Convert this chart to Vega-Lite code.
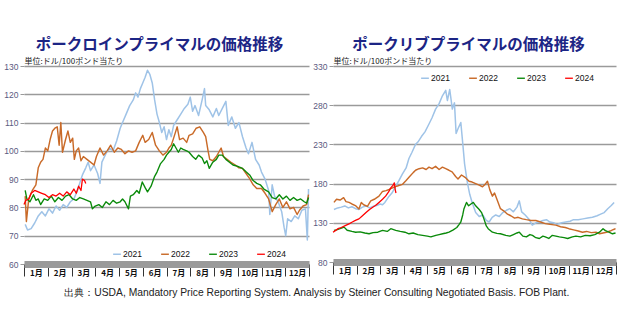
{
"$schema":"https://vega.github.io/schema/vega-lite/v6.json",
"autosize":{"type":"pad"},
"padding":{"left":3,"top":37,"right":5,"bottom":5},
"background":"white",
"bounds":"flush",
"spacing":24,
"title":{"text":"出典：USDA, Mandatory Price Reporting System. Analysis by Steiner Consulting Negotiated Basis. FOB Plant.","orient":"bottom","anchor":"middle","font":"Liberation Sans","fontSize":10.3,"fontWeight":"normal","color":"#222222","offset":11,"dx":1},
"datasets":{
"loin":[
{"yr":"2021","m":0.05,"v":74},{"yr":"2021","m":0.15,"v":72},{"yr":"2021","m":0.3,"v":72.5},{"yr":"2021","m":0.45,"v":74.5},{"yr":"2021","m":0.6,"v":77},{"yr":"2021","m":0.75,"v":78.5},{"yr":"2021","m":0.9,"v":77},{"yr":"2021","m":1.05,"v":79.5},{"yr":"2021","m":1.2,"v":78},{"yr":"2021","m":1.35,"v":80.5},{"yr":"2021","m":1.5,"v":79},{"yr":"2021","m":1.65,"v":81},{"yr":"2021","m":1.8,"v":80},{"yr":"2021","m":1.95,"v":82},{"yr":"2021","m":2.1,"v":83},{"yr":"2021","m":2.25,"v":86},{"yr":"2021","m":2.4,"v":90},{"yr":"2021","m":2.46,"v":91.5},{"yr":"2021","m":2.6,"v":94},{"yr":"2021","m":2.7,"v":96},{"yr":"2021","m":2.8,"v":93},{"yr":"2021","m":2.95,"v":95},{"yr":"2021","m":3.1,"v":92},{"yr":"2021","m":3.2,"v":88.5},{"yr":"2021","m":3.28,"v":96},{"yr":"2021","m":3.45,"v":99},{"yr":"2021","m":3.6,"v":101},{"yr":"2021","m":3.75,"v":100},{"yr":"2021","m":3.9,"v":103.5},{"yr":"2021","m":4.05,"v":108},{"yr":"2021","m":4.15,"v":110},{"yr":"2021","m":4.3,"v":113},{"yr":"2021","m":4.45,"v":116},{"yr":"2021","m":4.6,"v":118},{"yr":"2021","m":4.7,"v":120.5},{"yr":"2021","m":4.8,"v":119},{"yr":"2021","m":4.9,"v":122},{"yr":"2021","m":5.0,"v":124},{"yr":"2021","m":5.1,"v":126},{"yr":"2021","m":5.2,"v":128.5},{"yr":"2021","m":5.3,"v":127},{"yr":"2021","m":5.4,"v":124},{"yr":"2021","m":5.5,"v":118},{"yr":"2021","m":5.6,"v":113},{"yr":"2021","m":5.7,"v":110},{"yr":"2021","m":5.8,"v":106.5},{"yr":"2021","m":5.9,"v":108.5},{"yr":"2021","m":6.0,"v":104},{"yr":"2021","m":6.1,"v":107.5},{"yr":"2021","m":6.2,"v":105},{"yr":"2021","m":6.3,"v":109},{"yr":"2021","m":6.45,"v":111},{"yr":"2021","m":6.6,"v":113},{"yr":"2021","m":6.75,"v":115},{"yr":"2021","m":6.9,"v":116.5},{"yr":"2021","m":7.0,"v":119},{"yr":"2021","m":7.1,"v":114},{"yr":"2021","m":7.2,"v":116},{"yr":"2021","m":7.35,"v":112.5},{"yr":"2021","m":7.5,"v":118},{"yr":"2021","m":7.6,"v":122},{"yr":"2021","m":7.65,"v":116},{"yr":"2021","m":7.8,"v":114.5},{"yr":"2021","m":7.95,"v":112},{"yr":"2021","m":8.1,"v":115},{"yr":"2021","m":8.2,"v":112.5},{"yr":"2021","m":8.35,"v":115},{"yr":"2021","m":8.5,"v":117.5},{"yr":"2021","m":8.6,"v":109},{"yr":"2021","m":8.75,"v":112},{"yr":"2021","m":8.9,"v":108},{"yr":"2021","m":9.05,"v":110},{"yr":"2021","m":9.2,"v":105},{"yr":"2021","m":9.35,"v":101},{"yr":"2021","m":9.45,"v":99},{"yr":"2021","m":9.6,"v":103},{"yr":"2021","m":9.75,"v":97},{"yr":"2021","m":9.9,"v":95},{"yr":"2021","m":10.0,"v":92.5},{"yr":"2021","m":10.15,"v":90},{"yr":"2021","m":10.3,"v":86},{"yr":"2021","m":10.35,"v":77.5},{"yr":"2021","m":10.45,"v":88},{"yr":"2021","m":10.55,"v":84},{"yr":"2021","m":10.7,"v":82},{"yr":"2021","m":10.85,"v":78.5},{"yr":"2021","m":10.95,"v":73},{"yr":"2021","m":11.02,"v":70},{"yr":"2021","m":11.1,"v":76},{"yr":"2021","m":11.25,"v":75},{"yr":"2021","m":11.4,"v":77},{"yr":"2021","m":11.55,"v":76},{"yr":"2021","m":11.7,"v":79},{"yr":"2021","m":11.85,"v":79.5},{"yr":"2021","m":11.93,"v":68.5},{"yr":"2021","m":11.98,"v":86.5},
{"yr":"2022","m":0.05,"v":84},{"yr":"2022","m":0.1,"v":75},{"yr":"2022","m":0.2,"v":83},{"yr":"2022","m":0.35,"v":86},{"yr":"2022","m":0.5,"v":88},{"yr":"2022","m":0.6,"v":94},{"yr":"2022","m":0.7,"v":96},{"yr":"2022","m":0.8,"v":97},{"yr":"2022","m":0.9,"v":101},{"yr":"2022","m":1.0,"v":100},{"yr":"2022","m":1.1,"v":104},{"yr":"2022","m":1.2,"v":107},{"yr":"2022","m":1.3,"v":108},{"yr":"2022","m":1.4,"v":108.5},{"yr":"2022","m":1.48,"v":102},{"yr":"2022","m":1.55,"v":110},{"yr":"2022","m":1.62,"v":99.5},{"yr":"2022","m":1.75,"v":104},{"yr":"2022","m":1.85,"v":107},{"yr":"2022","m":1.95,"v":103},{"yr":"2022","m":2.05,"v":104.5},{"yr":"2022","m":2.12,"v":97},{"yr":"2022","m":2.2,"v":100},{"yr":"2022","m":2.3,"v":101},{"yr":"2022","m":2.4,"v":96.5},{"yr":"2022","m":2.5,"v":98},{"yr":"2022","m":2.65,"v":97},{"yr":"2022","m":2.8,"v":96},{"yr":"2022","m":2.95,"v":95},{"yr":"2022","m":3.05,"v":98},{"yr":"2022","m":3.2,"v":101},{"yr":"2022","m":3.35,"v":98.5},{"yr":"2022","m":3.5,"v":100},{"yr":"2022","m":3.65,"v":102},{"yr":"2022","m":3.8,"v":99.5},{"yr":"2022","m":3.95,"v":101},{"yr":"2022","m":4.1,"v":100.5},{"yr":"2022","m":4.25,"v":99},{"yr":"2022","m":4.4,"v":100},{"yr":"2022","m":4.55,"v":99.5},{"yr":"2022","m":4.7,"v":100},{"yr":"2022","m":4.85,"v":103},{"yr":"2022","m":5.0,"v":105.5},{"yr":"2022","m":5.1,"v":103},{"yr":"2022","m":5.25,"v":104},{"yr":"2022","m":5.4,"v":106.5},{"yr":"2022","m":5.54,"v":102},{"yr":"2022","m":5.7,"v":100},{"yr":"2022","m":5.85,"v":98.5},{"yr":"2022","m":6.0,"v":99.5},{"yr":"2022","m":6.1,"v":101},{"yr":"2022","m":6.2,"v":102},{"yr":"2022","m":6.3,"v":104.5},{"yr":"2022","m":6.45,"v":108.5},{"yr":"2022","m":6.55,"v":104},{"yr":"2022","m":6.7,"v":104.5},{"yr":"2022","m":6.85,"v":103},{"yr":"2022","m":6.95,"v":105.5},{"yr":"2022","m":7.1,"v":106},{"yr":"2022","m":7.25,"v":108},{"yr":"2022","m":7.4,"v":108.5},{"yr":"2022","m":7.55,"v":106.5},{"yr":"2022","m":7.65,"v":105},{"yr":"2022","m":7.75,"v":100},{"yr":"2022","m":7.82,"v":97},{"yr":"2022","m":7.95,"v":96.5},{"yr":"2022","m":8.1,"v":98},{"yr":"2022","m":8.2,"v":99.5},{"yr":"2022","m":8.3,"v":101},{"yr":"2022","m":8.4,"v":98},{"yr":"2022","m":8.55,"v":97},{"yr":"2022","m":8.7,"v":96},{"yr":"2022","m":8.9,"v":95},{"yr":"2022","m":9.05,"v":94},{"yr":"2022","m":9.2,"v":93.8},{"yr":"2022","m":9.35,"v":92},{"yr":"2022","m":9.5,"v":90.2},{"yr":"2022","m":9.65,"v":88},{"yr":"2022","m":9.8,"v":86.7},{"yr":"2022","m":10.0,"v":86.7},{"yr":"2022","m":10.15,"v":85},{"yr":"2022","m":10.3,"v":83},{"yr":"2022","m":10.45,"v":78.5},{"yr":"2022","m":10.6,"v":81},{"yr":"2022","m":10.75,"v":83},{"yr":"2022","m":10.9,"v":80},{"yr":"2022","m":11.05,"v":82},{"yr":"2022","m":11.2,"v":79.5},{"yr":"2022","m":11.35,"v":80},{"yr":"2022","m":11.5,"v":77.5},{"yr":"2022","m":11.6,"v":79},{"yr":"2022","m":11.75,"v":80.5},{"yr":"2022","m":11.9,"v":81},{"yr":"2022","m":11.98,"v":84.5},
{"yr":"2023","m":0.05,"v":86},{"yr":"2023","m":0.12,"v":83},{"yr":"2023","m":0.25,"v":82},{"yr":"2023","m":0.4,"v":84.5},{"yr":"2023","m":0.5,"v":82.5},{"yr":"2023","m":0.6,"v":83},{"yr":"2023","m":0.7,"v":81},{"yr":"2023","m":0.85,"v":83},{"yr":"2023","m":1.0,"v":82.5},{"yr":"2023","m":1.15,"v":84},{"yr":"2023","m":1.3,"v":82},{"yr":"2023","m":1.45,"v":83.5},{"yr":"2023","m":1.6,"v":82.5},{"yr":"2023","m":1.75,"v":84},{"yr":"2023","m":1.9,"v":84.5},{"yr":"2023","m":2.05,"v":83},{"yr":"2023","m":2.2,"v":82.5},{"yr":"2023","m":2.35,"v":83.5},{"yr":"2023","m":2.5,"v":83},{"yr":"2023","m":2.65,"v":82.5},{"yr":"2023","m":2.8,"v":82},{"yr":"2023","m":2.88,"v":79.5},{"yr":"2023","m":3.0,"v":80.5},{"yr":"2023","m":3.15,"v":81},{"yr":"2023","m":3.3,"v":80},{"yr":"2023","m":3.45,"v":82},{"yr":"2023","m":3.6,"v":81},{"yr":"2023","m":3.75,"v":82.5},{"yr":"2023","m":3.9,"v":81.5},{"yr":"2023","m":4.05,"v":82},{"yr":"2023","m":4.15,"v":83},{"yr":"2023","m":4.25,"v":82},{"yr":"2023","m":4.4,"v":79.5},{"yr":"2023","m":4.48,"v":84},{"yr":"2023","m":4.6,"v":84.5},{"yr":"2023","m":4.75,"v":86},{"yr":"2023","m":4.85,"v":85},{"yr":"2023","m":4.98,"v":89},{"yr":"2023","m":5.1,"v":87},{"yr":"2023","m":5.2,"v":85.5},{"yr":"2023","m":5.35,"v":87.5},{"yr":"2023","m":5.5,"v":91},{"yr":"2023","m":5.6,"v":92.5},{"yr":"2023","m":5.75,"v":95.5},{"yr":"2023","m":5.9,"v":97},{"yr":"2023","m":6.0,"v":98.5},{"yr":"2023","m":6.1,"v":99.5},{"yr":"2023","m":6.2,"v":100.5},{"yr":"2023","m":6.3,"v":102.5},{"yr":"2023","m":6.4,"v":101},{"yr":"2023","m":6.5,"v":99.5},{"yr":"2023","m":6.6,"v":101},{"yr":"2023","m":6.7,"v":100.5},{"yr":"2023","m":6.85,"v":100},{"yr":"2023","m":6.95,"v":99.5},{"yr":"2023","m":7.1,"v":98},{"yr":"2023","m":7.23,"v":97},{"yr":"2023","m":7.35,"v":98.5},{"yr":"2023","m":7.5,"v":97.5},{"yr":"2023","m":7.6,"v":95.5},{"yr":"2023","m":7.7,"v":96.5},{"yr":"2023","m":7.8,"v":93.8},{"yr":"2023","m":7.95,"v":96},{"yr":"2023","m":8.1,"v":97},{"yr":"2023","m":8.2,"v":98.5},{"yr":"2023","m":8.35,"v":98.5},{"yr":"2023","m":8.5,"v":97},{"yr":"2023","m":8.65,"v":96},{"yr":"2023","m":8.8,"v":95},{"yr":"2023","m":9.0,"v":94.5},{"yr":"2023","m":9.2,"v":93.8},{"yr":"2023","m":9.35,"v":92.6},{"yr":"2023","m":9.5,"v":91.5},{"yr":"2023","m":9.65,"v":89.5},{"yr":"2023","m":9.8,"v":88.5},{"yr":"2023","m":9.95,"v":88},{"yr":"2023","m":10.1,"v":86.5},{"yr":"2023","m":10.3,"v":85.5},{"yr":"2023","m":10.45,"v":83.5},{"yr":"2023","m":10.6,"v":83},{"yr":"2023","m":10.75,"v":84.5},{"yr":"2023","m":10.9,"v":83},{"yr":"2023","m":11.05,"v":84},{"yr":"2023","m":11.2,"v":82.5},{"yr":"2023","m":11.35,"v":83.5},{"yr":"2023","m":11.5,"v":82.5},{"yr":"2023","m":11.65,"v":83},{"yr":"2023","m":11.8,"v":82},{"yr":"2023","m":11.9,"v":81.5},{"yr":"2023","m":11.98,"v":83.5},
{"yr":"2024","m":0.0,"v":81},{"yr":"2024","m":0.08,"v":82.5},{"yr":"2024","m":0.2,"v":83},{"yr":"2024","m":0.3,"v":85},{"yr":"2024","m":0.45,"v":86},{"yr":"2024","m":0.6,"v":85.5},{"yr":"2024","m":0.75,"v":85},{"yr":"2024","m":0.9,"v":84.5},{"yr":"2024","m":1.05,"v":83.5},{"yr":"2024","m":1.2,"v":84.5},{"yr":"2024","m":1.35,"v":84},{"yr":"2024","m":1.5,"v":85},{"yr":"2024","m":1.65,"v":84},{"yr":"2024","m":1.8,"v":85.5},{"yr":"2024","m":1.95,"v":84.5},{"yr":"2024","m":2.1,"v":86.5},{"yr":"2024","m":2.2,"v":85},{"yr":"2024","m":2.3,"v":87.5},{"yr":"2024","m":2.4,"v":86},{"yr":"2024","m":2.46,"v":90},{"yr":"2024","m":2.55,"v":89.5},{"yr":"2024","m":2.6,"v":88.5}
],
"rib":[
{"yr":"2021","m":0.04,"v":147},{"yr":"2021","m":0.2,"v":149},{"yr":"2021","m":0.35,"v":150},{"yr":"2021","m":0.5,"v":151.5},{"yr":"2021","m":0.65,"v":149},{"yr":"2021","m":0.8,"v":150.5},{"yr":"2021","m":0.96,"v":148},{"yr":"2021","m":1.1,"v":147},{"yr":"2021","m":1.25,"v":150},{"yr":"2021","m":1.4,"v":151.5},{"yr":"2021","m":1.55,"v":149},{"yr":"2021","m":1.7,"v":151},{"yr":"2021","m":1.85,"v":152},{"yr":"2021","m":2.0,"v":154},{"yr":"2021","m":2.1,"v":153},{"yr":"2021","m":2.2,"v":156},{"yr":"2021","m":2.38,"v":164},{"yr":"2021","m":2.5,"v":168},{"yr":"2021","m":2.65,"v":176},{"yr":"2021","m":2.8,"v":184},{"yr":"2021","m":2.94,"v":192},{"yr":"2021","m":3.1,"v":200},{"yr":"2021","m":3.22,"v":212},{"yr":"2021","m":3.35,"v":220},{"yr":"2021","m":3.5,"v":230},{"yr":"2021","m":3.6,"v":233},{"yr":"2021","m":3.75,"v":240},{"yr":"2021","m":3.9,"v":246},{"yr":"2021","m":4.07,"v":256},{"yr":"2021","m":4.2,"v":264},{"yr":"2021","m":4.35,"v":275},{"yr":"2021","m":4.5,"v":282},{"yr":"2021","m":4.64,"v":292},{"yr":"2021","m":4.78,"v":299},{"yr":"2021","m":4.85,"v":286},{"yr":"2021","m":4.95,"v":300},{"yr":"2021","m":5.06,"v":275},{"yr":"2021","m":5.15,"v":283},{"yr":"2021","m":5.22,"v":244},{"yr":"2021","m":5.3,"v":250},{"yr":"2021","m":5.42,"v":258},{"yr":"2021","m":5.5,"v":232},{"yr":"2021","m":5.58,"v":205},{"yr":"2021","m":5.7,"v":181},{"yr":"2021","m":5.8,"v":166},{"yr":"2021","m":5.9,"v":156},{"yr":"2021","m":6.05,"v":143},{"yr":"2021","m":6.2,"v":138},{"yr":"2021","m":6.35,"v":140},{"yr":"2021","m":6.5,"v":133},{"yr":"2021","m":6.62,"v":131},{"yr":"2021","m":6.75,"v":137},{"yr":"2021","m":6.9,"v":140},{"yr":"2021","m":7.05,"v":138},{"yr":"2021","m":7.2,"v":143},{"yr":"2021","m":7.35,"v":146},{"yr":"2021","m":7.5,"v":148},{"yr":"2021","m":7.65,"v":144},{"yr":"2021","m":7.8,"v":150},{"yr":"2021","m":7.9,"v":158},{"yr":"2021","m":8.0,"v":144},{"yr":"2021","m":8.15,"v":140},{"yr":"2021","m":8.3,"v":135},{"yr":"2021","m":8.45,"v":127},{"yr":"2021","m":8.6,"v":130},{"yr":"2021","m":8.74,"v":131},{"yr":"2021","m":8.9,"v":133},{"yr":"2021","m":9.05,"v":134},{"yr":"2021","m":9.2,"v":131},{"yr":"2021","m":9.35,"v":130},{"yr":"2021","m":9.5,"v":128},{"yr":"2021","m":9.7,"v":130},{"yr":"2021","m":9.87,"v":131},{"yr":"2021","m":10.05,"v":132},{"yr":"2021","m":10.2,"v":134},{"yr":"2021","m":10.4,"v":134},{"yr":"2021","m":10.6,"v":135},{"yr":"2021","m":10.8,"v":136},{"yr":"2021","m":11.0,"v":137},{"yr":"2021","m":11.2,"v":139},{"yr":"2021","m":11.35,"v":141},{"yr":"2021","m":11.5,"v":143},{"yr":"2021","m":11.65,"v":148},{"yr":"2021","m":11.8,"v":152},{"yr":"2021","m":11.92,"v":156},
{"yr":"2022","m":0.04,"v":156},{"yr":"2022","m":0.15,"v":160},{"yr":"2022","m":0.3,"v":159},{"yr":"2022","m":0.45,"v":162},{"yr":"2022","m":0.55,"v":157},{"yr":"2022","m":0.68,"v":156},{"yr":"2022","m":0.8,"v":154},{"yr":"2022","m":0.95,"v":152},{"yr":"2022","m":1.1,"v":147.5},{"yr":"2022","m":1.2,"v":156},{"yr":"2022","m":1.3,"v":153},{"yr":"2022","m":1.46,"v":151},{"yr":"2022","m":1.6,"v":158},{"yr":"2022","m":1.75,"v":160},{"yr":"2022","m":1.95,"v":164},{"yr":"2022","m":2.1,"v":170},{"yr":"2022","m":2.25,"v":171},{"yr":"2022","m":2.38,"v":172.5},{"yr":"2022","m":2.55,"v":175},{"yr":"2022","m":2.7,"v":176.7},{"yr":"2022","m":2.85,"v":178},{"yr":"2022","m":2.94,"v":179},{"yr":"2022","m":3.1,"v":184},{"yr":"2022","m":3.25,"v":189},{"yr":"2022","m":3.4,"v":194},{"yr":"2022","m":3.5,"v":197},{"yr":"2022","m":3.65,"v":199},{"yr":"2022","m":3.8,"v":200},{"yr":"2022","m":3.95,"v":198},{"yr":"2022","m":4.07,"v":201},{"yr":"2022","m":4.2,"v":199},{"yr":"2022","m":4.35,"v":202},{"yr":"2022","m":4.5,"v":198},{"yr":"2022","m":4.64,"v":201},{"yr":"2022","m":4.78,"v":199},{"yr":"2022","m":4.92,"v":197},{"yr":"2022","m":5.05,"v":195},{"yr":"2022","m":5.2,"v":189},{"yr":"2022","m":5.3,"v":186},{"yr":"2022","m":5.45,"v":191},{"yr":"2022","m":5.6,"v":188},{"yr":"2022","m":5.77,"v":183},{"yr":"2022","m":5.9,"v":182},{"yr":"2022","m":6.05,"v":180},{"yr":"2022","m":6.2,"v":178},{"yr":"2022","m":6.34,"v":176},{"yr":"2022","m":6.45,"v":179},{"yr":"2022","m":6.55,"v":183},{"yr":"2022","m":6.65,"v":172},{"yr":"2022","m":6.76,"v":164},{"yr":"2022","m":6.85,"v":168},{"yr":"2022","m":6.95,"v":160},{"yr":"2022","m":7.1,"v":148},{"yr":"2022","m":7.25,"v":145},{"yr":"2022","m":7.4,"v":141},{"yr":"2022","m":7.54,"v":139},{"yr":"2022","m":7.7,"v":136},{"yr":"2022","m":7.85,"v":137},{"yr":"2022","m":8.03,"v":135},{"yr":"2022","m":8.2,"v":134},{"yr":"2022","m":8.4,"v":133},{"yr":"2022","m":8.6,"v":133},{"yr":"2022","m":8.8,"v":131},{"yr":"2022","m":9.0,"v":129},{"yr":"2022","m":9.2,"v":128},{"yr":"2022","m":9.45,"v":127},{"yr":"2022","m":9.65,"v":125},{"yr":"2022","m":9.85,"v":124},{"yr":"2022","m":10.0,"v":122.5},{"yr":"2022","m":10.2,"v":121},{"yr":"2022","m":10.4,"v":119.5},{"yr":"2022","m":10.58,"v":118},{"yr":"2022","m":10.75,"v":119},{"yr":"2022","m":10.95,"v":117.5},{"yr":"2022","m":11.15,"v":118},{"yr":"2022","m":11.3,"v":116},{"yr":"2022","m":11.45,"v":117},{"yr":"2022","m":11.6,"v":118},{"yr":"2022","m":11.75,"v":119.5},{"yr":"2022","m":11.9,"v":121.5},{"yr":"2022","m":11.98,"v":122.5},
{"yr":"2023","m":0.04,"v":120.4},{"yr":"2023","m":0.15,"v":121},{"yr":"2023","m":0.3,"v":122.5},{"yr":"2023","m":0.47,"v":124.5},{"yr":"2023","m":0.6,"v":120.5},{"yr":"2023","m":0.8,"v":119},{"yr":"2023","m":0.96,"v":118},{"yr":"2023","m":1.15,"v":118.5},{"yr":"2023","m":1.35,"v":117},{"yr":"2023","m":1.53,"v":116},{"yr":"2023","m":1.7,"v":117.5},{"yr":"2023","m":1.9,"v":118},{"yr":"2023","m":2.1,"v":120.4},{"yr":"2023","m":2.3,"v":119},{"yr":"2023","m":2.45,"v":122.5},{"yr":"2023","m":2.66,"v":120.4},{"yr":"2023","m":2.85,"v":119},{"yr":"2023","m":3.05,"v":118},{"yr":"2023","m":3.22,"v":116},{"yr":"2023","m":3.4,"v":117},{"yr":"2023","m":3.6,"v":115},{"yr":"2023","m":3.8,"v":114},{"yr":"2023","m":4.0,"v":113},{"yr":"2023","m":4.15,"v":112},{"yr":"2023","m":4.36,"v":114},{"yr":"2023","m":4.5,"v":115},{"yr":"2023","m":4.65,"v":116},{"yr":"2023","m":4.8,"v":117},{"yr":"2023","m":4.92,"v":118},{"yr":"2023","m":5.1,"v":121},{"yr":"2023","m":5.25,"v":124},{"yr":"2023","m":5.35,"v":128},{"yr":"2023","m":5.42,"v":131},{"yr":"2023","m":5.5,"v":140},{"yr":"2023","m":5.55,"v":147.5},{"yr":"2023","m":5.66,"v":156},{"yr":"2023","m":5.75,"v":151.7},{"yr":"2023","m":5.85,"v":154},{"yr":"2023","m":5.95,"v":156},{"yr":"2023","m":6.05,"v":151.7},{"yr":"2023","m":6.2,"v":147},{"yr":"2023","m":6.3,"v":143},{"yr":"2023","m":6.4,"v":135},{"yr":"2023","m":6.5,"v":126},{"yr":"2023","m":6.58,"v":122.5},{"yr":"2023","m":6.76,"v":118},{"yr":"2023","m":6.95,"v":116.5},{"yr":"2023","m":7.1,"v":116},{"yr":"2023","m":7.33,"v":114},{"yr":"2023","m":7.5,"v":113},{"yr":"2023","m":7.65,"v":115},{"yr":"2023","m":7.8,"v":117},{"yr":"2023","m":7.9,"v":118},{"yr":"2023","m":8.05,"v":113},{"yr":"2023","m":8.2,"v":112},{"yr":"2023","m":8.35,"v":115},{"yr":"2023","m":8.46,"v":114},{"yr":"2023","m":8.6,"v":111},{"yr":"2023","m":8.75,"v":110},{"yr":"2023","m":8.9,"v":113},{"yr":"2023","m":9.0,"v":112},{"yr":"2023","m":9.15,"v":110},{"yr":"2023","m":9.3,"v":114},{"yr":"2023","m":9.45,"v":113},{"yr":"2023","m":9.6,"v":112},{"yr":"2023","m":9.8,"v":111},{"yr":"2023","m":9.95,"v":110},{"yr":"2023","m":10.15,"v":112},{"yr":"2023","m":10.3,"v":113},{"yr":"2023","m":10.5,"v":112},{"yr":"2023","m":10.7,"v":114},{"yr":"2023","m":10.9,"v":113.5},{"yr":"2023","m":11.1,"v":115},{"yr":"2023","m":11.3,"v":118},{"yr":"2023","m":11.45,"v":122.5},{"yr":"2023","m":11.55,"v":120},{"yr":"2023","m":11.7,"v":118},{"yr":"2023","m":11.85,"v":116},{"yr":"2023","m":11.98,"v":117},
{"yr":"2024","m":0.0,"v":118},{"yr":"2024","m":0.1,"v":120},{"yr":"2024","m":0.21,"v":122.5},{"yr":"2024","m":0.35,"v":124},{"yr":"2024","m":0.54,"v":126.7},{"yr":"2024","m":0.7,"v":129},{"yr":"2024","m":0.82,"v":131},{"yr":"2024","m":0.95,"v":133},{"yr":"2024","m":1.1,"v":135},{"yr":"2024","m":1.25,"v":139},{"yr":"2024","m":1.4,"v":143},{"yr":"2024","m":1.55,"v":147},{"yr":"2024","m":1.67,"v":149.6},{"yr":"2024","m":1.8,"v":152},{"yr":"2024","m":1.95,"v":156},{"yr":"2024","m":2.1,"v":160},{"yr":"2024","m":2.23,"v":164},{"yr":"2024","m":2.35,"v":169},{"yr":"2024","m":2.45,"v":174.6},{"yr":"2024","m":2.55,"v":178},{"yr":"2024","m":2.6,"v":181},{"yr":"2024","m":2.64,"v":172},{"yr":"2024","m":2.67,"v":168}
]
},
"hconcat":[
{
"width":285,"height":198,
"title":{"text":"ポークロインプライマルの価格推移","dx":-7},
"data":{"name":"loin"},
"mark":{"type":"line","strokeJoin":"round"},
"encoding":{
"x":{"field":"m","type":"quantitative","scale":{"domain":[0,12],"nice":false,"zero":false},"axis":{"values":[0,1,2,3,4,5,6,7,8,9,10,11,12],"labelExpr":"datum.value < 12 ? (datum.value + 1) + '月' : ''","labelOffset":11.875,"title":null,"grid":false}},
"y":{"field":"v","type":"quantitative","scale":{"domain":[60,130],"nice":false,"zero":false},"axis":{"values":[60,70,80,90,100,110,120,130],"title":"単位:ドル/100ポンド当たり"}},
"color":{"field":"yr","type":"nominal","scale":{"domain":["2021","2022","2023","2024"],"range":["#9fc3e7","#c96a28","#0a8a0a","#ff0000"]},"legend":{"orient":"none","legendX":88,"legendY":183}},
"strokeWidth":{"field":"yr","type":"ordinal","scale":{"domain":["2021","2022","2023","2024"],"range":[1.5,1.3,1.9,1.7]},"legend":null}
}
},
{
"width":283,"height":196,
"title":{"text":"ポークリブプライマルの価格推移","dx":-6},
"data":{"name":"rib"},
"mark":{"type":"line","strokeJoin":"round"},
"encoding":{
"x":{"field":"m","type":"quantitative","scale":{"domain":[0,12],"nice":false,"zero":false},"axis":{"values":[0,1,2,3,4,5,6,7,8,9,10,11,12],"labelExpr":"datum.value < 12 ? (datum.value + 1) + '月' : ''","labelOffset":11.79,"title":null,"grid":false}},
"y":{"field":"v","type":"quantitative","scale":{"domain":[80,330],"nice":false,"zero":false},"axis":{"values":[80,130,180,230,280,330],"title":"単位:ドル/100ポンド当たり"}},
"color":{"field":"yr","type":"nominal","scale":{"domain":["2021","2022","2023","2024"],"range":["#9fc3e7","#c96a28","#0a8a0a","#ff0000"]},"legend":{"orient":"none","legendX":87,"legendY":7}},
"strokeWidth":{"field":"yr","type":"ordinal","scale":{"domain":["2021","2022","2023","2024"],"range":[1.5,1.3,1.9,1.7]},"legend":null}
}
}
],
"resolve":{"scale":{"color":"independent","strokeWidth":"independent","x":"independent","y":"independent"},"legend":{"color":"independent"}},
"config":{
"view":{"stroke":null},
"title":{"font":"Noto Sans CJK JP","fontSize":15.5,"fontWeight":"bold","color":"#1c2585","anchor":"middle","offset":4},
"axisX":{"domainColor":"#9a9a9a","domainWidth":7,"tickColor":"#333333","tickSize":12,"tickWidth":1,"labelPadding":-7,"labelFont":"Noto Sans CJK JP","labelFontSize":8,"labelFontWeight":"bold","labelColor":"#111111","labelOverlap":false,"labelFlush":false,"labelBound":false},
"axisY":{"domain":false,"grid":true,"gridColor":"#9a9a9a","gridWidth":1.3,"tickColor":"#9a9a9a","tickSize":4,"labelPadding":2,"labelFont":"Liberation Sans","labelFontSize":8.5,"labelColor":"#5a5a80","titleAngle":0,"titleAlign":"left","titleBaseline":"alphabetic","titleX":0,"titleY":-3,"titleFont":"Noto Sans CJK JP","titleFontSize":8,"titleFontWeight":"normal","titleColor":"#222222"},
"legend":{"direction":"horizontal","columns":4,"symbolType":"stroke","symbolSize":60,"symbolStrokeWidth":1.5,"labelFont":"Liberation Sans","labelFontSize":8.5,"labelColor":"#111111","labelOffset":1,"columnPadding":16,"padding":0,"title":null}
}
}
